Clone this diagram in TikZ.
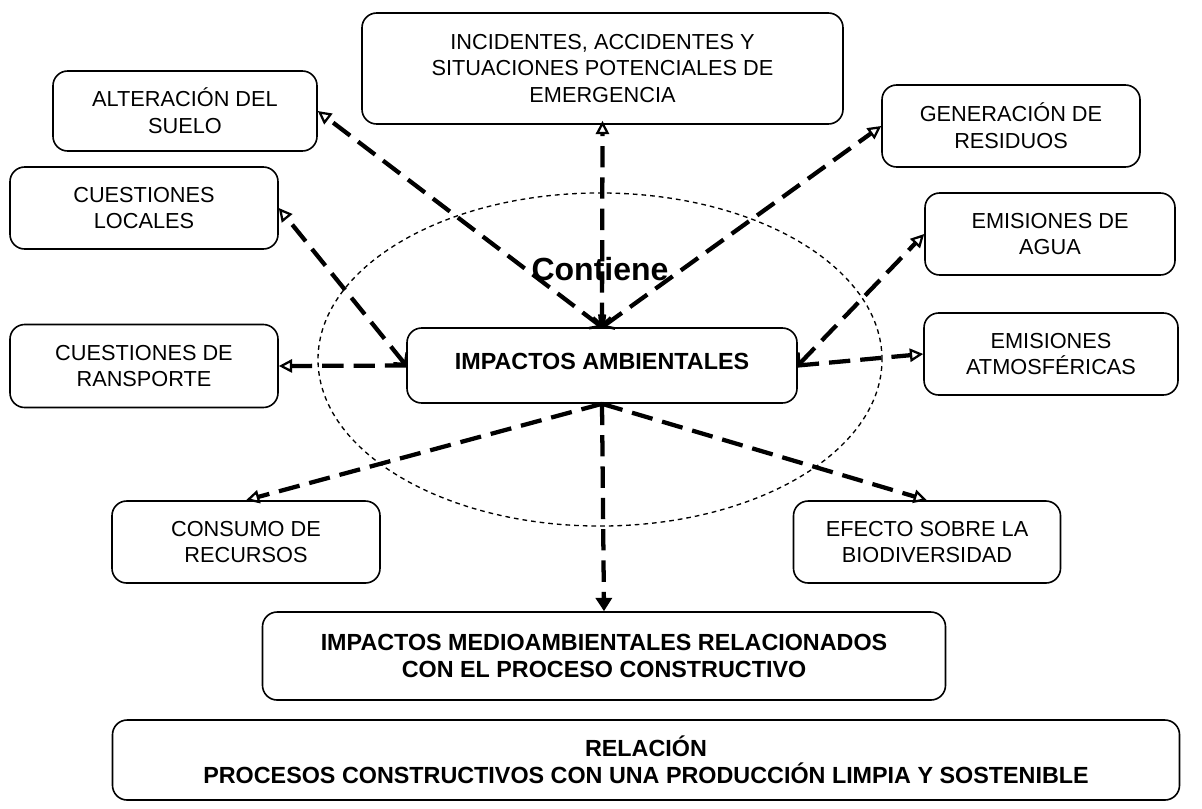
\documentclass[tikz,border=0pt]{standalone}
\usepackage{fontspec}
\setmainfont{Liberation Sans}
\usetikzlibrary{arrows.meta}

\tikzset{
  box/.style={draw, line width=1.2pt, rounded corners=11pt, fill=white,
    align=center, inner sep=0pt, font=\fontsize{16.3}{20}\selectfont},
  boldbox/.style={box, font=\fontsize{17.5}{20}\selectfont\bfseries},
  link/.style={line width=3.2pt, dash pattern=on 16pt off 7.5pt},
  toouter/.style={link, -{Triangle[open, length=10pt, width=10pt, line width=1.7pt]}},
  bothends/.style={link, {Straight Barb[length=6pt, width=13pt, line width=2pt]}-{Triangle[open, length=10pt, width=10pt, line width=1.7pt]}},
  todown/.style={link, -{Triangle[length=10pt, width=12pt]}},
  halo/.style={line width=1pt, dash pattern=on 3.5pt off 3pt},
}

\begin{document}
\begin{tikzpicture}[x=0.75pt, y=-0.75pt]
  \useasboundingbox (0,0) rectangle (1202,808);

  % dotted ellipse around the central concept
  \draw[halo] (600,359.5) ellipse [x radius=211.5pt, y radius=124.9pt];

  % boxes
  \node[box, minimum width=360.75pt, minimum height=83.25pt] (inc) at (602.5,68.5)
    {INCIDENTES, ACCIDENTES Y\\SITUACIONES POTENCIALES DE\\EMERGENCIA};
  \node[box, minimum width=198pt, minimum height=60pt] (alt) at (185,111)
    {ALTERACIÓN DEL\\SUELO};
  \node[box, minimum width=193.5pt, minimum height=61.5pt] (gen) at (1011,126)
    {GENERACIÓN DE\\RESIDUOS};
  \node[box, minimum width=201pt, minimum height=61.5pt] (loc) at (144,208)
    {CUESTIONES\\LOCALES};
  \node[box, minimum width=187.5pt, minimum height=61.5pt] (agua) at (1050,234)
    {EMISIONES DE\\AGUA};
  \node[box, minimum width=201pt, minimum height=62.25pt] (trans) at (144,366)
    {CUESTIONES DE\\RANSPORTE};
  \node[boldbox, minimum width=292.5pt, minimum height=56.25pt] (imp) at (602,365.5)
    {\raisebox{6pt}{IMPACTOS AMBIENTALES}};
  \node[box, minimum width=190.5pt, minimum height=61.5pt] (atm) at (1051,354)
    {EMISIONES\\ATMOSFÉRICAS};
  \node[box, minimum width=201pt, minimum height=61.5pt] (cons) at (246,542)
    {CONSUMO DE\\RECURSOS};
  \node[box, minimum width=200.25pt, minimum height=61.5pt] (efe) at (927,542)
    {EFECTO SOBRE LA\\BIODIVERSIDAD};
  \node[boldbox, minimum width=512.25pt, minimum height=66pt] (med) at (604,656)
    {IMPACTOS MEDIOAMBIENTALES RELACIONADOS\\CON EL PROCESO CONSTRUCTIVO};
  \node[boldbox, minimum width=800.25pt, minimum height=60pt] (rel) at (646,760)
    {RELACIÓN\\PROCESOS CONSTRUCTIVOS CON UNA PRODUCCIÓN LIMPIA Y SOSTENIBLE};

  % connectors from the central concept
  \draw[bothends] (imp.north) -- (alt.east);
  \draw[bothends, shorten >=-3pt] (imp.north) -- (inc.south);
  \draw[bothends] (imp.north) -- (gen.west);
  \draw[bothends] (imp.west) -- (loc.east);
  \draw[toouter] (imp.west) -- (trans.east);
  \draw[bothends] (imp.east) -- (agua.west);
  \draw[toouter] (imp.east) -- (atm.west);
  \draw[toouter] (imp.south) -- (cons.north);
  \draw[toouter] (imp.south) -- (efe.north);
  \draw[todown] (imp.south) -- (med.north);

  % label over the upper connectors
  \node[font=\fontsize{24}{27}\selectfont\bfseries, anchor=base, inner sep=0pt] (cont) at (600,280) {Contiene};
\end{tikzpicture}
\end{document}
